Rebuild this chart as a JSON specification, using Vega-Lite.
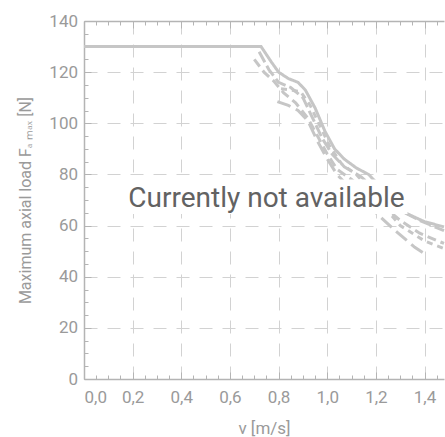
{
  "$schema": "https://vega.github.io/schema/vega-lite/v6.json",
  "width": 360,
  "height": 358,
  "autosize": {"type": "none"},
  "padding": {"left": 84, "top": 21, "right": 1, "bottom": 58},
  "config": {
    "view": {"stroke": null},
    "axis": {
      "domainColor": "#b4b4b4",
      "domainWidth": 1.5,
      "tickColor": "#b4b4b4",
      "tickWidth": 1,
      "gridColor": "#d2d2d2",
      "gridWidth": 1,
      "gridDash": [13, 10],
      "labelFont": "Roboto",
      "labelFontSize": 17,
      "labelColor": "#9a9a9a",
      "titleFont": "Roboto",
      "titleFontWeight": "normal",
      "titleColor": "#9a9a9a",
      "titleFontSize": 16
    }
  },
  "datasets": {
    "curves": [
      {"s": "A", "v": 0.0, "F": 130},
      {"s": "A", "v": 0.728, "F": 130},
      {"s": "A", "v": 0.77, "F": 124},
      {"s": "A", "v": 0.8, "F": 120},
      {"s": "A", "v": 0.84, "F": 117.5},
      {"s": "A", "v": 0.88, "F": 116},
      {"s": "A", "v": 0.91, "F": 113},
      {"s": "A", "v": 0.95, "F": 106},
      {"s": "A", "v": 0.99, "F": 97},
      {"s": "A", "v": 1.03, "F": 90},
      {"s": "A", "v": 1.07, "F": 86},
      {"s": "A", "v": 1.12, "F": 82.5},
      {"s": "A", "v": 1.17, "F": 80},
      {"s": "A", "v": 1.25, "F": 72},
      {"s": "A", "v": 1.32, "F": 65},
      {"s": "A", "v": 1.4, "F": 61.5},
      {"s": "A", "v": 1.48, "F": 59.5},
      {"s": "B", "v": 0.72, "F": 128},
      {"s": "B", "v": 0.76, "F": 121},
      {"s": "B", "v": 0.8, "F": 116},
      {"s": "B", "v": 0.85, "F": 114},
      {"s": "B", "v": 0.9, "F": 110},
      {"s": "B", "v": 0.94, "F": 102},
      {"s": "B", "v": 0.98, "F": 94},
      {"s": "B", "v": 1.02, "F": 88},
      {"s": "B", "v": 1.07, "F": 83},
      {"s": "B", "v": 1.14, "F": 79},
      {"s": "B", "v": 1.22, "F": 72},
      {"s": "B", "v": 1.3, "F": 66},
      {"s": "B", "v": 1.38, "F": 62},
      {"s": "B", "v": 1.48, "F": 58},
      {"s": "C", "v": 0.7, "F": 125},
      {"s": "C", "v": 0.74, "F": 120},
      {"s": "C", "v": 0.78, "F": 116.5},
      {"s": "C", "v": 0.82, "F": 112},
      {"s": "C", "v": 0.87, "F": 108},
      {"s": "C", "v": 0.92, "F": 102},
      {"s": "C", "v": 0.96, "F": 95},
      {"s": "C", "v": 1.0, "F": 88},
      {"s": "C", "v": 1.04, "F": 82},
      {"s": "C", "v": 1.1, "F": 78},
      {"s": "C", "v": 1.2, "F": 70},
      {"s": "C", "v": 1.3, "F": 62},
      {"s": "C", "v": 1.38, "F": 57},
      {"s": "C", "v": 1.48, "F": 53},
      {"s": "D", "v": 0.81, "F": 113.5},
      {"s": "D", "v": 0.85, "F": 113},
      {"s": "D", "v": 0.89, "F": 112.4},
      {"s": "D", "v": 0.93, "F": 107},
      {"s": "D", "v": 0.97, "F": 99},
      {"s": "D", "v": 1.01, "F": 91},
      {"s": "D", "v": 1.06, "F": 84},
      {"s": "D", "v": 1.12, "F": 80},
      {"s": "D", "v": 1.3, "F": 60},
      {"s": "D", "v": 1.4, "F": 54},
      {"s": "D", "v": 1.48, "F": 51},
      {"s": "E", "v": 0.795, "F": 108.5},
      {"s": "E", "v": 0.84, "F": 107},
      {"s": "E", "v": 0.88, "F": 105},
      {"s": "E", "v": 0.92, "F": 101},
      {"s": "E", "v": 0.96, "F": 93},
      {"s": "E", "v": 1.0, "F": 86},
      {"s": "E", "v": 1.04, "F": 80},
      {"s": "E", "v": 1.1, "F": 74},
      {"s": "E", "v": 1.2, "F": 65},
      {"s": "E", "v": 1.28, "F": 58},
      {"s": "E", "v": 1.36, "F": 51.5},
      {"s": "E", "v": 1.4, "F": 49}
    ],
    "note": [
      {"label": "Currently not available", "v": 0.75, "F": 70.5, "v1": 0.17, "v2": 1.33, "F1": 64.5, "F2": 78}
    ]
  },
  "layer": [
    {
      "data": {"name": "curves"},
      "mark": {"type": "line", "strokeWidth": 3, "color": "#c6c6c6", "strokeCap": "butt"},
      "encoding": {
        "x": {
          "field": "v", "type": "quantitative",
          "scale": {"domain": [0, 1.48], "nice": false},
          "axis": {
            "orient": "bottom",
            "values": [0, 0.2, 0.4, 0.6, 0.8, 1.0, 1.2, 1.4],
            "tickSize": -7,
            "labelPadding": 17,
            "labelExpr": "replace(format(datum.value, '.1f'), '.', ',')",
            "grid": true,
            "title": "v [m/s]",
            "titleFontSize": 17,
            "titlePadding": 15
          }
        },
        "y": {
          "field": "F", "type": "quantitative",
          "scale": {"domain": [0, 140], "nice": false},
          "axis": {
            "orient": "left",
            "values": [0, 20, 40, 60, 80, 100, 120, 140],
            "tickSize": -7,
            "labelPadding": 13.5,
            "grid": true,
            "title": "Maximum axial load Fₐ ₘₐₓ [N]",
            "titlePadding": 15
          }
        },
        "strokeDash": {
          "field": "s", "type": "nominal",
          "scale": {"domain": ["A", "B", "C", "D", "E"], "range": [[1, 0], [12, 4], [9, 5], [6, 5], [14, 6]]},
          "legend": null
        }
      }
    },
    {
      "data": {"name": "curves"},
      "mark": {"type": "line", "opacity": 0},
      "encoding": {
        "x": {
          "field": "v", "type": "quantitative",
          "axis": {
            "orient": "bottom",
            "values": [0.05, 0.1, 0.15, 0.25, 0.3, 0.35, 0.45, 0.5, 0.55, 0.65, 0.7, 0.75, 0.85, 0.9, 0.95, 1.05, 1.1, 1.15, 1.25, 1.3, 1.35, 1.45],
            "tickSize": -4, "labels": false, "domain": false, "grid": false, "title": null
          }
        },
        "y": {
          "field": "F", "type": "quantitative",
          "axis": {
            "orient": "left",
            "values": [5, 10, 15, 25, 30, 35, 45, 50, 55, 65, 70, 75, 85, 90, 95, 105, 110, 115, 125, 130, 135],
            "tickSize": -4, "labels": false, "domain": false, "grid": false, "title": null
          }
        }
      }
    },
    {
      "data": {"name": "curves"},
      "mark": {"type": "line", "opacity": 0},
      "encoding": {
        "x": {
          "field": "v", "type": "quantitative",
          "axis": {
            "orient": "top",
            "values": [0, 0.2, 0.4, 0.6, 0.8, 1.0, 1.2, 1.4],
            "tickSize": -7, "labels": false, "domain": true, "grid": false, "title": null
          }
        },
        "y": {"field": "F", "type": "quantitative", "axis": null}
      }
    },
    {
      "data": {"name": "curves"},
      "mark": {"type": "line", "opacity": 0},
      "encoding": {
        "x": {
          "field": "v", "type": "quantitative",
          "axis": {
            "orient": "top",
            "values": [0.05, 0.1, 0.15, 0.25, 0.3, 0.35, 0.45, 0.5, 0.55, 0.65, 0.7, 0.75, 0.85, 0.9, 0.95, 1.05, 1.1, 1.15, 1.25, 1.3, 1.35, 1.45],
            "tickSize": -4, "labels": false, "domain": false, "grid": false, "title": null
          }
        },
        "y": {"field": "F", "type": "quantitative", "axis": null}
      }
    },
    {
      "data": {"name": "note"},
      "mark": {"type": "rect", "color": "white"},
      "encoding": {
        "x": {"field": "v1", "type": "quantitative", "axis": null},
        "x2": {"field": "v2"},
        "y": {"field": "F1", "type": "quantitative", "axis": null},
        "y2": {"field": "F2"}
      }
    },
    {
      "data": {"name": "note"},
      "mark": {"type": "text", "font": "Roboto", "fontSize": 28, "color": "#626262", "align": "center", "baseline": "middle"},
      "encoding": {
        "x": {"field": "v", "type": "quantitative", "axis": null},
        "y": {"field": "F", "type": "quantitative", "axis": null},
        "text": {"field": "label"}
      }
    }
  ],
  "resolve": {"axis": {"x": "independent", "y": "independent"}}
}
